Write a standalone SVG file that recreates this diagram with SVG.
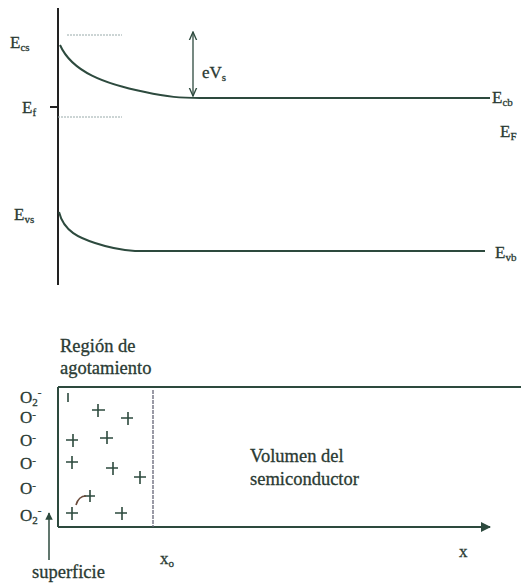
<svg xmlns="http://www.w3.org/2000/svg" width="526" height="586" viewBox="0 0 526 586">
<defs>
<style>
.t{font-family:"Liberation Serif","Times New Roman",serif;fill:#2a3a33;font-size:17px;stroke:#2a3a33;stroke-width:0.3}
.b{font-size:18.5px}
.s{font-size:11px}
.ln{stroke:#2d4a3e;fill:none;stroke-width:2}
.ax{stroke:#222;fill:none;stroke-width:2}
.dot{stroke:#9aa;fill:none;stroke-width:1;stroke-dasharray:2 1}
.pm{stroke:#2d4a3e;stroke-width:1.6;fill:none}
</style>
<marker id="ah" viewBox="0 0 10 10" refX="9" refY="5" markerWidth="5" markerHeight="5" orient="auto-start-reverse"><path d="M0,0 L10,5 L0,10 z" fill="#2d4a3e"/></marker>
<marker id="ao" viewBox="0 0 10 10" refX="9" refY="5" markerWidth="7" markerHeight="7" orient="auto-start-reverse"><path d="M0,1 L9,5 L0,9" fill="none" stroke="#2d4a3e" stroke-width="1.5"/></marker>
</defs>
<rect width="526" height="586" fill="#fff"/>
<g id="connectors">
<line class="ax" x1="58" y1="8" x2="58" y2="285"/>
<line class="dot" x1="67" y1="35" x2="122" y2="35"/>
<line class="dot" x1="58" y1="117" x2="122" y2="117"/>
<line class="ax" x1="50" y1="107" x2="58" y2="107" stroke-width="1.5"/>
<path class="ln" d="M60,45 C72,72 105,84 145,92 C168,97 180,98 200,98 L490,98"/>
<line x1="193" y1="96" x2="193" y2="32" stroke="#2d4a3e" stroke-width="1.3" marker-start="url(#ao)" marker-end="url(#ao)"/>
<path class="ln" d="M59,212 C64,232 80,238 95,243 C110,248 120,250 135,251 L485,251"/>
<line class="ln" x1="58" y1="387" x2="521" y2="387"/>
<line class="ln" x1="58" y1="387" x2="58" y2="527"/>
<line class="ln" x1="58" y1="527" x2="490" y2="527" marker-end="url(#ah)"/>
<line x1="153" y1="390" x2="153" y2="527" stroke="#667" stroke-width="1.3" stroke-dasharray="4 1"/>
<line x1="49" y1="560" x2="49" y2="513" stroke="#2d4a3e" stroke-width="1.5" marker-end="url(#ah)"/>
</g>
<g id="labels-top">
<text class="t" x="10" y="48">E<tspan class="s" dy="3">cs</tspan></text>
<text class="t" x="22" y="113">E<tspan class="s" dy="3">f</tspan></text>
<text class="t" x="202" y="78">eV<tspan class="s" dy="3">s</tspan></text>
<text class="t" x="492" y="103">E<tspan class="s" dy="3">cb</tspan></text>
<text class="t" x="500" y="137">E<tspan class="s" dy="3">F</tspan></text>
<text class="t" x="14" y="220">E<tspan class="s" dy="3">vs</tspan></text>
<text class="t" x="495" y="258">E<tspan class="s" dy="3">vb</tspan></text>
</g>
<g id="labels-bottom">
<text class="t b" x="60" y="352">Región de</text>
<text class="t b" x="60" y="374">agotamiento</text>
<text class="t" x="20" y="403">O<tspan class="s" dy="3">2</tspan><tspan class="s" dy="-10">-</tspan></text>
<text class="t" x="20" y="423">O<tspan class="s" dy="-5">-</tspan></text>
<text class="t" x="20" y="446">O<tspan class="s" dy="-5">-</tspan></text>
<text class="t" x="20" y="469">O<tspan class="s" dy="-5">-</tspan></text>
<text class="t" x="20" y="494">O<tspan class="s" dy="-5">-</tspan></text>
<text class="t" x="20" y="521">O<tspan class="s" dy="3">2</tspan><tspan class="s" dy="-10">-</tspan></text>
<text class="t b" x="250" y="462">Volumen del</text>
<text class="t b" x="250" y="485">semiconductor</text>
<text class="t" x="160" y="564">x<tspan class="s" dy="3">o</tspan></text>
<text class="t" x="459" y="557">x</text>
<text class="t b" x="32" y="578">superficie</text>
</g>
<g id="charges" class="pm">
<path d="M68,393 v9"/>
<path d="M92,410 h13 M98,404 v13"/>
<path d="M121,418 h12 M128,412 v13"/>
<path d="M66,440 h12 M73,434 v13"/>
<path d="M100,438 h13 M107,431 v13"/>
<path d="M66,462 h12 M72,456 v13"/>
<path d="M106,468 h12 M113,462 v13"/>
<path d="M134,477 h12 M140,471 v13"/>
<path d="M84,496 h11 M90,490 v12"/>
<path d="M66,513 h12 M72,507 v13"/>
<path d="M115,513 h12 M122,507 v13"/>
<path d="M76,505 C78,498 82,496 86,496" stroke="#6a4a3a"/>
</g>
</svg>
